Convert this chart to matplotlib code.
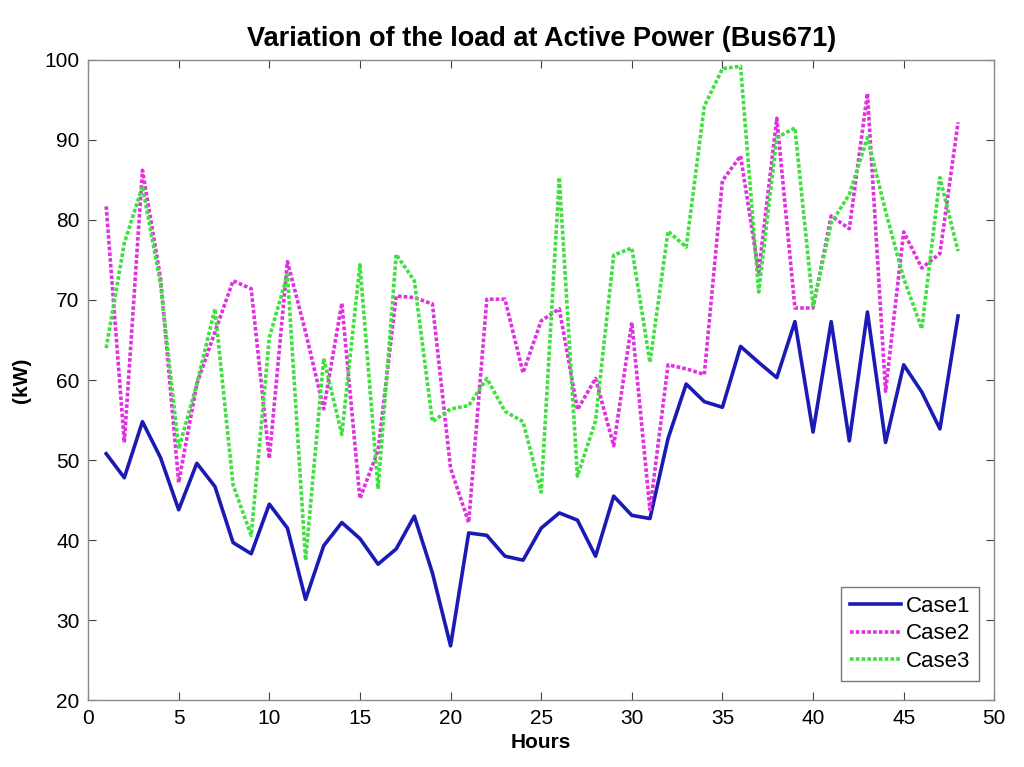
import numpy as np
import matplotlib
matplotlib.use("Agg")
import matplotlib.pyplot as plt

plt.rcParams['font.family'] = ['Liberation Sans', 'DejaVu Sans']

# hourly load values (kW)
hours = np.arange(1, 49)
case1 = [50.8, 47.8, 54.8, 50.3, 43.8, 49.6, 46.7, 39.7, 38.3, 44.5, 41.5, 32.6,
         39.3, 42.2, 40.2, 37.0, 38.9, 43.0, 35.9, 26.8, 40.9, 40.6, 38.0, 37.5,
         41.5, 43.4, 42.5, 38.0, 45.5, 43.1, 42.7, 52.7, 59.5, 57.3, 56.6, 64.2,
         62.2, 60.3, 67.3, 53.5, 67.3, 52.4, 68.5, 52.2, 61.9, 58.5, 53.9, 68.0]
case2 = [81.7, 52.2, 86.2, 72.7, 47.2, 59.5, 66.0, 72.4, 71.4, 50.2, 74.8, 66.0,
         56.4, 69.6, 45.2, 51.2, 70.5, 70.3, 69.5, 49.0, 42.2, 70.1, 70.1, 60.9,
         67.4, 68.9, 56.3, 60.2, 51.8, 67.2, 43.8, 61.9, 61.4, 60.7, 84.9, 88.0,
         73.5, 92.7, 69.0, 69.0, 80.5, 78.9, 95.8, 58.6, 78.5, 74.0, 75.8, 92.2]
case3 = [64.0, 77.1, 84.2, 72.0, 51.4, 59.5, 68.9, 46.9, 40.6, 65.3, 73.2, 37.5,
         62.7, 53.2, 74.4, 46.4, 75.7, 72.4, 54.8, 56.4, 56.8, 60.2, 56.1, 54.8,
         46.0, 85.3, 48.0, 54.9, 75.6, 76.5, 62.2, 78.6, 76.6, 94.2, 98.9, 99.2,
         71.0, 90.3, 91.5, 69.3, 79.6, 83.2, 90.3, 81.1, 72.7, 66.4, 85.3, 76.1]

fig = plt.figure(figsize=(10.24, 7.67), dpi=100)
ax = fig.add_axes([0.086, 0.087, 0.885, 0.835])

ax.plot(hours, case1, color='#1a1ab4', lw=2.6, label='Case1')
ax.plot(hours, case2, color='#e030e0', lw=2.6, ls=(0, (1, 0.6)), label='Case2')
ax.plot(hours, case3, color='#3ee03e', lw=2.6, ls=(0, (1, 0.6)), label='Case3')

ax.set_xlim(0, 50)
ax.set_ylim(20, 100)
ax.set_xticks(np.arange(0, 51, 5))
ax.set_yticks(np.arange(20, 101, 10))
ax.tick_params(direction='in', top=True, right=True, length=6,
               labelsize=15, color='#444444', pad=6)
for s in ax.spines.values():
    s.set_color('#8a8a8a')
    s.set_linewidth(1.0)

ax.set_title('Variation of the load at Active Power (Bus671)',
             fontsize=19.5, fontweight='bold', pad=10)
ax.set_xlabel('Hours', fontsize=15, fontweight='bold', labelpad=4)
ax.set_ylabel('(kW)', fontsize=15, fontweight='bold', labelpad=10)

leg = ax.legend(loc='lower right', fontsize=16, frameon=True, fancybox=False,
                handlelength=2.3, handletextpad=0.2, borderpad=0.4,
                labelspacing=0.3, bbox_to_anchor=(0.9955, 0.013))
leg.get_frame().set_edgecolor('#555555')
leg.get_frame().set_linewidth(1.0)

fig.savefig('out.png', dpi=100)
